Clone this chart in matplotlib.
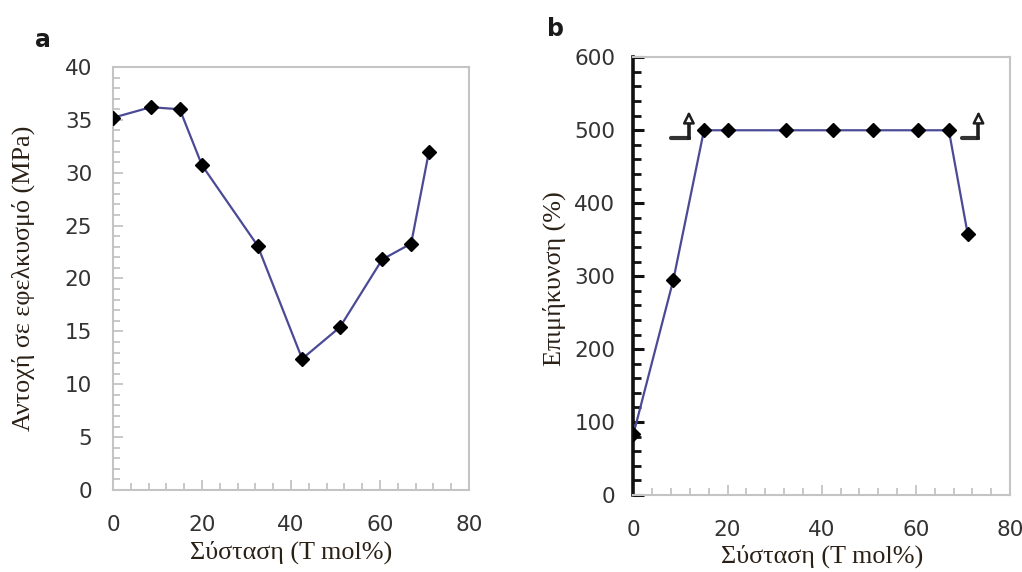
import matplotlib
matplotlib.use("Agg")
import matplotlib.pyplot as plt
from matplotlib.patches import FancyArrowPatch
from matplotlib.ticker import MultipleLocator

# Composition (T mol%)
composition = [0, 8.5, 15, 20, 32.5, 42.5, 51, 60.5, 67, 71]
# Tensile strength (MPa)
tensile_strength = [35.2, 36.2, 36.0, 30.7, 23.1, 12.4, 15.4, 21.8, 23.3, 32.0]
# Elongation at break (%)
elongation = [83, 295, 500, 500, 500, 500, 500, 500, 500, 358]

x_ticks = [0, 20, 40, 60, 80]
ylabel_a = "Αντοχή σε εφελκυσμό (MPa)"
ylabel_b = "Επιμήκυνση (%)"
xlabel = "Σύσταση (T mol%)"

LINE = "#4b4a96"
SPINE = "#c4c4c4"
TICKTXT = "#333333"
LABEL = "#2a2016"

fig = plt.figure(figsize=(10.22, 5.72), dpi=100)
ax_a = fig.add_axes([0.1106, 0.1434, 0.3483, 0.7395])
ax_b = fig.add_axes([0.6197, 0.1346, 0.3686, 0.7652])

serif = ["Liberation Serif", "DejaVu Serif"]

for ax in (ax_a, ax_b):
    ax.set_xlim(0, 80)
    ax.set_xticks(x_ticks)
    ax.xaxis.set_minor_locator(MultipleLocator(4))
    for s in ax.spines.values():
        s.set_color(SPINE)
        s.set_linewidth(1.5)
    ax.tick_params(axis="both", which="both", direction="in", colors=SPINE,
                   labelcolor=TICKTXT, labelsize=15.5)
    ax.tick_params(axis="x", which="major", length=7, width=1.3, pad=18)
    ax.tick_params(axis="x", which="minor", length=5, width=1.3)
    ax.tick_params(top=False, right=False, which="both")

ax_a.set_xlabel(xlabel, family=serif, fontsize=18.8, color=LABEL, labelpad=4)
ax_b.set_xlabel(xlabel, family=serif, fontsize=18.8, color=LABEL, labelpad=3)

# (a) tensile strength
ax_a.plot(composition, tensile_strength, color=LINE, lw=1.6, marker="D",
          ms=7, mfc="black", mec="black", zorder=3)
ax_a.set_ylim(0, 40)
ax_a.yaxis.set_major_locator(MultipleLocator(5))
ax_a.yaxis.set_minor_locator(MultipleLocator(1))
ax_a.tick_params(axis="y", which="major", length=7, width=1.3, pad=15)
ax_a.tick_params(axis="y", which="minor", length=5, width=1.3)
ax_a.set_ylabel(ylabel_a, family=serif, fontsize=18.8, color=LABEL)
ax_a.yaxis.set_label_coords(-0.218, 0.5)
fig.text(0.042, 0.930, "a", fontsize=17, fontweight="bold", color="#1a1a1a",
         ha="center", va="center")

# (b) elongation at break
ax_b.plot(composition, elongation, color=LINE, lw=1.6, marker="D",
          ms=7, mfc="black", mec="black", zorder=3)
ax_b.set_ylim(0, 600)
ax_b.yaxis.set_major_locator(MultipleLocator(100))
ax_b.yaxis.set_minor_locator(MultipleLocator(20))
ax_b.spines["left"].set_color("#111111")
ax_b.spines["left"].set_linewidth(2.6)
ax_b.tick_params(axis="y", which="major", length=8, width=2.2, colors="#111111",
                 labelcolor=TICKTXT, pad=13)
ax_b.tick_params(axis="y", which="minor", length=6, width=2.0, colors="#111111")
ax_b.set_ylabel(ylabel_b, family=serif, fontsize=18.8, color=LABEL)
ax_b.yaxis.set_label_coords(-0.178, 0.495)
fig.text(0.544, 0.950, "b", fontsize=17, fontweight="bold", color="#1a1a1a",
         ha="center", va="center")

# "did not break" markers: elbow with an open upward arrow
for x0, x1 in [(8.1, 11.8), (69.7, 73.3)]:
    ax_b.plot([x0, x1], [489, 489], color="#333333", lw=3.0,
              solid_capstyle="round", zorder=4)
    ax_b.plot([x1, x1], [489, 512], color="#1e1e1e", lw=2.6, zorder=4)
    arr = FancyArrowPatch((x1, 505), (x1, 530), arrowstyle="-|>",
                          mutation_scale=17, lw=1.8, ec="#1e1e1e", fc="white",
                          zorder=5)
    ax_b.add_patch(arr)

fig.savefig("out.png", dpi=100)
